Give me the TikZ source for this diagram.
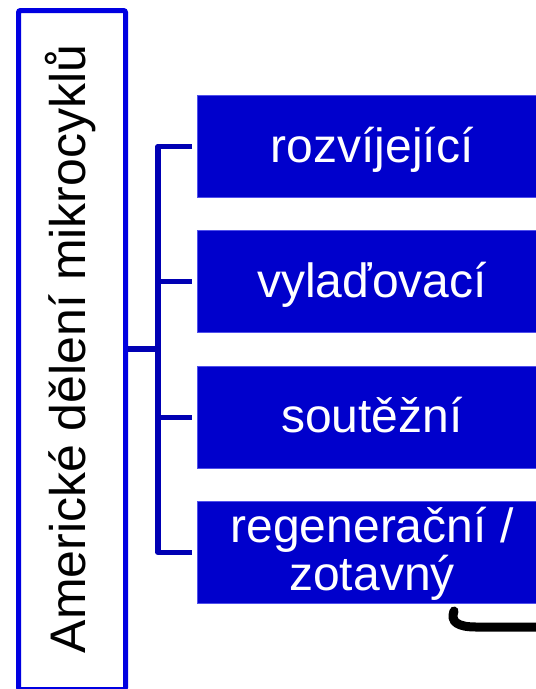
\documentclass[tikz,border=0pt]{standalone}
\usepackage{fontspec}
\setmainfont{Liberation Sans}
\definecolor{boxblue}{RGB}{0,0,204}
\definecolor{frameblue}{RGB}{0,0,225}
\definecolor{lineblue}{RGB}{0,0,180}
\definecolor{edgeblue}{RGB}{80,80,235}
\begin{document}
\begin{tikzpicture}[x=1pt,y=-1pt,
  catbox/.style={draw=edgeblue, line width=0.8pt, fill=boxblue, minimum width=348pt, minimum height=102pt, inner sep=0pt, anchor=north west},
  cattext/.style={text=white, font=\fontsize{48}{48}\selectfont, anchor=base, align=center, inner sep=0pt},
  link/.style={draw=lineblue, line width=5.5pt, line join=round}]
\useasboundingbox (0,0) rectangle (536,689);
\clip (0,0) rectangle (536,689);
% left frame with vertical title
\node (frame) [draw=frameblue, line width=5pt, rounded corners=2pt, minimum width=107pt, minimum height=679pt, inner sep=0pt, anchor=north west] at (16,8) {};
\node (title) [rotate=90, anchor=base, inner sep=0pt, font=\fontsize{50}{50}\selectfont] at (85,349) {Americké dělení mikrocyklů};
% category boxes
\node (b1) [catbox] at (197,95) {};
\node (b2) [catbox] at (197,230) {};
\node (b3) [catbox] at (197,366) {};
\node (b4) [catbox] at (197,501) {};
\node (t1) [cattext] at (372,162) {rozvíjející};
\node (t2) [cattext] at (372,297) {vylaďovací};
\node (t3) [cattext] at (372,432) {soutěžní};
\node (t4) [cattext] at (372,590) {regenerační /\\zotavný};
% connectors
\coordinate (hub) at (158,349);
\draw[link] (frame.east |- hub) -- (hub);
\draw[link] ([xshift=-5pt]b1.west) -- (b1.west -| hub) -- (b4.west -| hub) -- ([xshift=-5pt]b4.west);
\draw[link] (b2.west -| hub) -- ([xshift=-5pt]b2.west);
\draw[link] (b3.west -| hub) -- ([xshift=-5pt]b3.west);
% black stroke fragment
\draw[line width=9pt, line cap=round] (454,611) .. controls (450,622) and (458,627) .. (476,627) -- (545,627);
\end{tikzpicture}
\end{document}
